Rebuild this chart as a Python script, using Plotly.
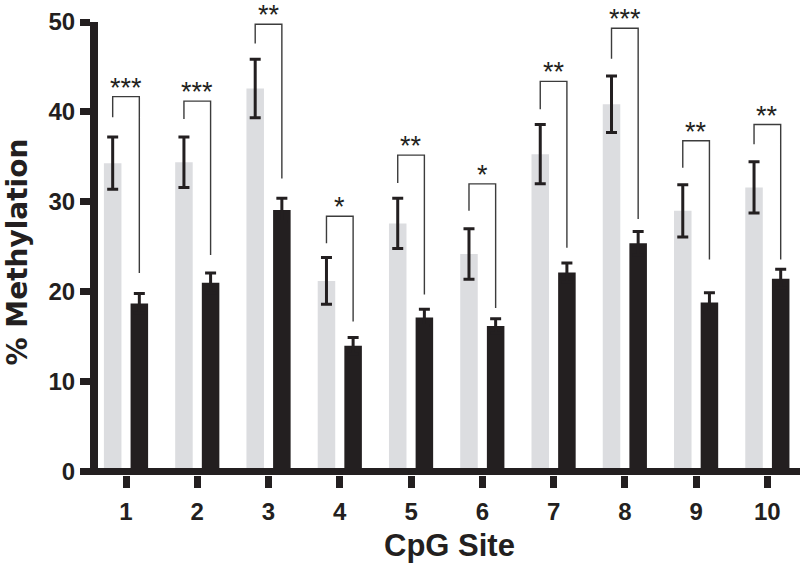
import plotly.graph_objects as go

sites = [1, 2, 3, 4, 5, 6, 7, 8, 9, 10]
tick_labels = ["1", "2", "3", "4", "5", "6", "7", "8", "9", "10"]

grey_mean = [34.3, 34.4, 42.6, 21.2, 27.6, 24.2, 35.3, 40.85, 29.0, 31.6]
grey_err = [2.9, 2.8, 3.25, 2.6, 2.8, 2.8, 3.3, 3.15, 2.9, 2.85]
black_mean = [18.7, 21.0, 29.1, 14.0, 17.15, 16.2, 22.15, 25.4, 18.8, 21.45]
black_err = [1.1, 1.1, 1.3, 0.9, 0.9, 0.8, 1.05, 1.3, 1.1, 1.05]

sig_top = [41.7, 41.2, 49.75, 28.4, 35.2, 32.0, 43.4, 49.3, 36.8, 38.6]
sig_left_end = [39.4, 39.2, 47.6, 25.4, 32.1, 29.0, 40.3, 45.9, 33.8, 36.4]
sig_right_end = [22.1, 24.1, 32.6, 16.7, 19.7, 18.2, 24.9, 28.1, 23.6, 23.6]
sig_labels = ["***", "***", "**", "*", "**", "*", "**", "***", "**", "**"]

y_ticks = [0, 10, 20, 30, 40, 50]

BLACK = "#231f20"
GREY = "#dcdde0"
BAR_W = 0.246
SHIFT = 0.187

fig = go.Figure()

fig.add_trace(go.Bar(
    x=sites, y=grey_mean, width=BAR_W, offset=-SHIFT - BAR_W / 2,
    marker=dict(color=GREY, line=dict(width=0)),
    error_y=dict(type="data", array=grey_err, visible=True, color=BLACK, thickness=3, width=5.5),
    showlegend=False,
))
fig.add_trace(go.Bar(
    x=sites, y=black_mean, width=BAR_W, offset=SHIFT - BAR_W / 2,
    marker=dict(color=BLACK, line=dict(width=0)),
    error_y=dict(type="data", array=black_err, visible=True, color=BLACK, thickness=3, width=5.5),
    showlegend=False,
))

# significance brackets
for s, top, le, re, lab in zip(sites, sig_top, sig_left_end, sig_right_end, sig_labels):
    fig.add_trace(go.Scatter(
        x=[s - SHIFT, s - SHIFT, s + SHIFT, s + SHIFT],
        y=[le, top, top, re],
        mode="lines", line=dict(color="#3c3c3c", width=1.4),
        showlegend=False, hoverinfo="skip", cliponaxis=False,
    ))
    fig.add_annotation(
        x=s, y=top, text=lab, showarrow=False, xanchor="center", yanchor="bottom",
        yshift=-8, font=dict(family="Liberation Sans", size=27, color=BLACK),
    )

# x axis line at y = 0
fig.add_shape(type="line", xref="paper", x0=0, x1=1, yref="y", y0=0, y1=0,
              line=dict(color=BLACK, width=7), layer="above")

# axis titles
fig.add_annotation(
    xref="paper", yref="paper", x=0.5, y=0, yshift=-70, xanchor="center", yanchor="middle",
    text="CpG Site", showarrow=False,
    font=dict(family="Liberation Sans", size=31, color=BLACK, weight="bold"),
)
fig.add_annotation(
    xref="paper", yref="paper", x=0, y=0.5, xshift=-81.5, yshift=-3.5,
    xanchor="center", yanchor="middle", textangle=-90,
    text="% Methylation", showarrow=False,
    font=dict(family="DejaVu Sans", size=28, color=BLACK, weight="bold"),
)

fig.update_layout(
    width=800, height=568,
    margin=dict(l=98, r=0, t=22, b=93),
    paper_bgcolor="white", plot_bgcolor="white",
    barmode="overlay",
    showlegend=False,
)
fig.update_xaxes(
    range=[0.607, 10.458], tickvals=sites, ticktext=tick_labels,
    showgrid=False, zeroline=False, showline=False,
    ticks="outside", ticklen=12, tickwidth=7, tickcolor=BLACK, ticklabelstandoff=3,
    tickfont=dict(family="Liberation Sans", size=24, color=BLACK, weight="bold"),
)
fig.update_yaxes(
    range=[-0.378, 50], tickvals=y_ticks,
    showgrid=False, zeroline=False, showline=True, linewidth=8, linecolor=BLACK,
    ticks="outside", ticklen=10, tickwidth=7, tickcolor=BLACK,
    tickfont=dict(family="Liberation Sans", size=24, color=BLACK, weight="bold"),
)

fig.write_html("out.html", config={"displayModeBar": False},
               post_script="document.body.style.margin='0';")
